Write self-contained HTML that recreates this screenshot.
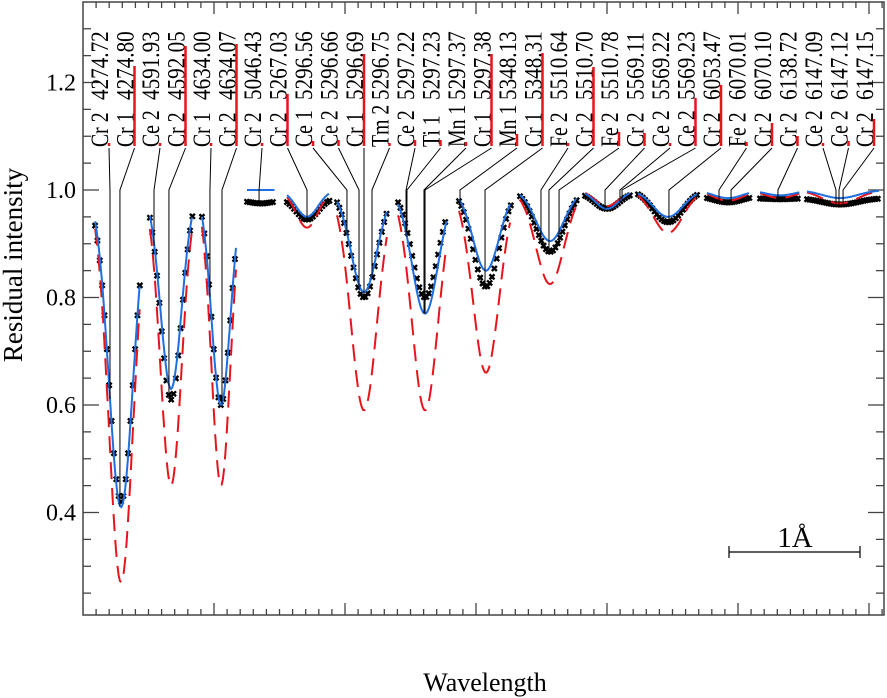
<!DOCTYPE html>
<html><head><meta charset="utf-8"><style>
html,body{margin:0;padding:0;background:#fff;}
svg{display:block;font-family:"Liberation Serif",serif;}
</style></head><body>
<svg id="chart" width="887" height="698" viewBox="0 0 887 698" xmlns="http://www.w3.org/2000/svg">
<g id="axes"></g>
<g id="series"></g>
<g id="labels"></g>
<text x="13" y="265" transform="rotate(-90 13 265)" text-anchor="middle" dominant-baseline="central" font-size="27">Residual intensity</text>
<text x="485" y="691" text-anchor="middle" font-size="26">Wavelength</text>
<g>
<line x1="729" y1="552" x2="860" y2="552" stroke="#000" stroke-width="1.2"/>
<line x1="729" y1="546" x2="729" y2="558" stroke="#000" stroke-width="1.2"/>
<line x1="860" y1="546" x2="860" y2="558" stroke="#000" stroke-width="1.2"/>
<text x="795" y="547" text-anchor="middle" font-size="29">1Å</text>
</g>
</svg>
<script>
// segments (plot units, 1 unit = 1 Å in scale bar)
const segStart=[0.092,0.511,0.908,1.252,1.557,1.939,2.405,2.870,3.336,3.832,4.237,4.763,5.168,5.527];
const segEnd=[0.435,0.840,1.176,1.466,1.885,2.328,2.779,3.267,3.771,4.176,4.687,5.092,5.473,6.084];
const segCenter=[0.290,0.672,1.053,1.359,1.710,2.145,2.611,3.076,3.565,4.000,4.466,4.924,5.321,5.779];
const segWidth=[0.092,0.080,0.071,0.076,0.084,0.099,0.099,0.099,0.107,0.092,0.114,0.115,0.115,0.137];
const obsCont=[0.99,1.0,1.0,0.98,0.985,1.0,1.0,1.0,1.0,0.995,1.0,0.99,0.985,0.985];
const obsMin=[0.42,0.61,0.60,0.975,0.945,0.80,0.80,0.82,0.885,0.965,0.94,0.977,0.983,0.973];
const blueMin=[0.41,0.63,0.60,1.0,0.95,0.81,0.77,0.85,0.905,0.965,0.95,0.985,0.99,0.985];
const redMin=[0.27,0.45,0.45,1.0,0.93,0.59,0.59,0.66,0.825,0.97,0.92,0.98,0.985,0.975];

const species=["Cr 2","Cr 1","Ce 2","Cr 2","Cr 1","Cr 2","Cr 2","Cr 2","Ce 1","Ce 2","Cr 1","Tm 2","Ce 2","Ti 1","Mn 1","Cr 1","Mn 1","Cr 1","Fe 2","Cr 2","Fe 2","Cr 2","Ce 2","Ce 2","Cr 2","Fe 2","Cr 2","Cr 2","Ce 2","Ce 2","Cr 2"];
const waves=["4274.72","4274.80","4591.93","4592.05","4634.00","4634.07","5046.43","5267.03","5296.56","5296.66","5296.69","5296.75","5297.22","5297.23","5297.37","5297.38","5348.13","5348.31","5510.64","5510.70","5510.78","5569.11","5569.22","5569.23","6053.47","6070.01","6070.10","6138.72","6147.09","6147.12","6147.15"];
const linePos=[0.206,0.282,0.542,0.656,0.969,1.061,1.344,1.710,2.015,2.107,2.145,2.206,2.466,2.473,2.603,2.611,2.878,3.069,3.496,3.557,3.634,3.985,4.099,4.115,4.473,4.855,4.947,5.305,5.748,5.771,5.802];
const lineStrength=[0.03,0.80,0.03,1.00,0.02,1.02,0.03,0.52,0.05,0.06,0.92,0.03,0.06,0.06,0.04,0.92,0.12,0.93,0.02,0.79,0.14,0.13,0.02,0.48,0.61,0.04,0.23,0.10,0.02,0.05,0.27];

const NS="http://www.w3.org/2000/svg";
const L=83,R=884,T=2,B=615;
const xs=u=>L+u*131;
const ys=v=>190+(1.0-v)*537.5;
function mk(tag,attrs,parent){const e=document.createElementNS(NS,tag);for(const k in attrs)e.setAttribute(k,attrs[k]);parent.appendChild(e);return e;}
const axes=document.getElementById('axes'),series=document.getElementById('series'),labels=document.getElementById('labels');

const fr=mk('rect',{x:L,y:T,width:R-L,height:B-T,fill:'none',stroke:'#444','stroke-width':1.5},axes);


for(let i=1;i*13.1<R-L;i++){const x=L+i*13.1;const maj=i%10===0;const h=maj?12:6;
 const t1=mk('line',{x1:x,y1:B,x2:x,y2:B-h,stroke:'#444','stroke-width':1.3},axes);
 
 
 const t2=mk('line',{x1:x,y1:T,x2:x,y2:T+h,stroke:'#444','stroke-width':1.3},axes);
 
 }
const yTickLabels=["0.4","0.6","0.8","1.0","1.2"];
for(let k=5;k<=27;k++){const v=k*0.05;const y=ys(v);if(y<T||y>B)continue;const maj=(k%4===0);const h=maj?16:8;
 const a=mk('line',{x1:L,y1:y,x2:L+h,y2:y,stroke:'#444','stroke-width':1.3},axes);
 
 
 const b=mk('line',{x1:R,y1:y,x2:R-h,y2:y,stroke:'#444','stroke-width':1.3},axes);
 
 }
yTickLabels.forEach(s=>{const t=mk('text',{x:76,y:ys(parseFloat(s))+8,'text-anchor':'end','font-size':24},axes);t.textContent=s;
 
 });

function prof(i,u,min,cont){const d=(u-segCenter[i])/segWidth[i];return cont-(cont-min)*Math.exp(-0.5*d*d);}
function path(i,min,cont){let d='';for(let u=segStart[i];u<=segEnd[i]+1e-6;u+=0.01){d+=(d?'L':'M')+xs(u).toFixed(1)+','+ys(prof(i,u,min,cont)).toFixed(1);}return d;}
function segOf(u){let best=0,bd=1e9;for(let i=0;i<segCenter.length;i++){const dd=Math.abs(u-segCenter[i]);if(dd<bd){bd=dd;best=i;}}return best;}

linePos.forEach((u,i)=>{const rx=109+25.5*i;const lx=xs(u);const s=segOf(u);
 const yEnd=ys(Math.min(prof(s,u,blueMin[s],1.0),prof(s,u,obsMin[s],obsCont[s])));
 const p=mk('polyline',{points:`${rx},148 ${lx},190 ${lx},${Math.max(yEnd,192)}`,fill:'none',stroke:'#000','stroke-width':1},labels);
 
 });

for(let i=0;i<segCenter.length;i++){
 for(let u=segStart[i];u<=segEnd[i]+1e-6;u+=0.018){const x=xs(u),y=ys(prof(i,u,obsMin[i],obsCont[i]));
  const m=mk('path',{d:`M${x-2.5},${y-2.5}L${x+2.5},${y+2.5}M${x-2.5},${y+2.5}L${x+2.5},${y-2.5}`,stroke:'#000','stroke-width':2.4},series);
  
  }
 const rp=mk('path',{d:path(i,redMin[i],1.0),fill:'none',stroke:'#e8141c','stroke-width':2,'stroke-dasharray':'17 9'},series);
 
 
 const bp=mk('path',{d:path(i,blueMin[i],1.0),fill:'none',stroke:'#1f6fe0','stroke-width':2},series);
 
 
}

species.forEach((sp,i)=>{const rx=109+25.5*i;const bx=rx-1;
 const t=mk('text',{x:0,y:0,transform:`translate(${bx} 147) rotate(-90) scale(0.86 1.08)`,'font-size':23},labels);t.textContent=sp;
 
 
 const w=mk('text',{x:0,y:0,transform:`translate(${bx} 100) rotate(-90) scale(0.92 1.08)`,'font-size':23},labels);w.textContent=waves[i];
 
 
 const h=lineStrength[i]*100;
 const r=mk('line',{x1:rx,y1:146,x2:rx,y2:146-Math.max(h,3),stroke:'#e8141c','stroke-width':2.5},labels);
 
 });
</script>
</body></html>
